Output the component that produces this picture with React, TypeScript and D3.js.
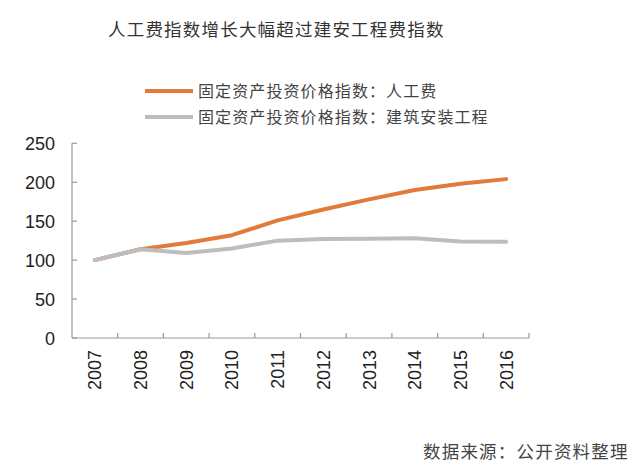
import React from "react";
import * as d3 from "d3";

const years = ["2007", "2008", "2009", "2010", "2011", "2012", "2013", "2014", "2015", "2016"];
const laborCost = [100, 114, 122, 132, 151, 165, 178, 190, 198, 204];
const constructionCost = [100, 114, 109, 115, 125, 127, 127.5, 128, 124, 123.5];
const yTicks = [0, 50, 100, 150, 200, 250];
const titleText = "人工费指数增长大幅超过建安工程费指数";
const legendLabels = ["固定资产投资价格指数：人工费", "固定资产投资价格指数：建筑安装工程"];
const sourceText = "数据来源：公开资料整理";

const W = 640;
const H = 469;
const left = 72;
const right = 529;
const top = 143.3;
const bottom = 338;

const ORANGE = "#E27A3A";
const GRAY = "#BDBDBD";
const AXIS = "#9A9A9A";
const CJK = "'Noto Sans CJK SC', 'Noto Sans', sans-serif";
const NUM = "'Liberation Sans', Arial, sans-serif";

export default function App() {
  const x = d3.scaleBand<string>().domain(years).range([left, right]).paddingInner(0).paddingOuter(0);
  const y = d3.scaleLinear().domain([0, 250]).range([bottom, top]);
  const cx = (yr: string) => (x(yr) as number) + x.bandwidth() / 2;

  const line = d3
    .line<number>()
    .x((_, i) => cx(years[i]))
    .y((v) => y(v))
    .curve(d3.curveLinear);

  const series = [
    { values: laborCost, color: ORANGE },
    { values: constructionCost, color: GRAY },
  ];

  const tickXs = years.map((yr) => (x(yr) as number) + x.bandwidth());

  return (
    <svg width={W} height={H} style={{ position: "absolute", left: 0, top: 0, background: "#fff" }}>
      <text x={108} y={36} fontFamily={CJK} fontSize={17.5} fill="#333" letterSpacing={1.2}>
        {titleText}
      </text>

      {legendLabels.map((lab, i) => (
        <g key={lab}>
          <line
            x1={145}
            x2={193}
            y1={91 + i * 26}
            y2={91 + i * 26}
            stroke={i === 0 ? ORANGE : GRAY}
            strokeWidth={4}
          />
          <text x={198} y={91 + i * 26 + 5.5} fontFamily={CJK} fontSize={16} fill="#444" letterSpacing={1.1}>
            {lab}
          </text>
        </g>
      ))}

      {/* y axis */}
      <line x1={left} x2={left} y1={top} y2={bottom} stroke={AXIS} strokeWidth={1.2} />
      {yTicks.map((t) => (
        <g key={t}>
          <line x1={left} x2={left + 5} y1={y(t)} y2={y(t)} stroke={AXIS} strokeWidth={1.2} />
          <text x={55} y={y(t) + 6.5} textAnchor="end" fontFamily={NUM} fontSize={18} fill="#222">
            {t}
          </text>
        </g>
      ))}

      {/* x axis */}
      <line x1={left} x2={right} y1={bottom} y2={bottom} stroke={AXIS} strokeWidth={1.2} />
      {tickXs.map((tx, i) => (
        <line key={i} x1={tx} x2={tx} y1={bottom} y2={bottom - 5} stroke={AXIS} strokeWidth={1.2} />
      ))}
      {years.map((yr) => (
        <text
          key={yr}
          transform={`translate(${cx(yr) + 6.5},${bottom + 12}) rotate(-90)`}
          textAnchor="end"
          fontFamily={NUM}
          fontSize={18}
          fill="#222"
        >
          {yr}
        </text>
      ))}

      {series.map((s, i) => (
        <path
          key={i}
          d={line(s.values) as string}
          fill="none"
          stroke={s.color}
          strokeWidth={4}
          strokeLinecap="round"
          strokeLinejoin="round"
        />
      ))}

      <text x={423} y={458} fontFamily={CJK} fontSize={17.5} fill="#444" letterSpacing={1.2}>
        {sourceText}
      </text>
    </svg>
  );
}
